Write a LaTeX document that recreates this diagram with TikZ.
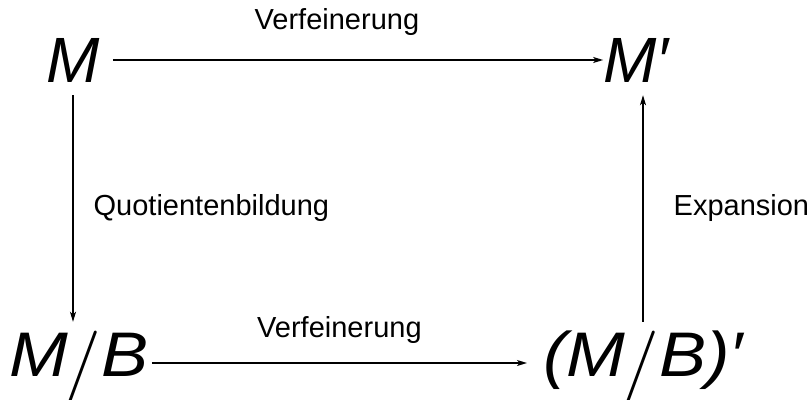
\documentclass[tikz,border=0pt]{standalone}
\usepackage{fontspec}
\setmainfont{Liberation Sans}
\newfontfamily\thinfont{lmroman10-regular}[Extension=.otf]
\usepackage{graphicx}
\usetikzlibrary{positioning,arrows.meta}
\tikzset{>={Stealth[length=10pt,width=6pt,inset=2.5pt]}}

% long thin slanted bar for the quotient, reaching below the baseline
\newcommand{\quotbar}{\kern-3pt\raisebox{-9.5pt}{\scalebox{1}[1.1]{\thinfont\fontsize{66}{66}\selectfont/}}\kern0pt}
% quotient objects are set a little wider
\newcommand{\wide}[1]{\scalebox{1.12}[1]{#1}}

\begin{document}
\begin{tikzpicture}[
        x=1pt, y=1pt,
        obj/.style={
            font=\fontsize{64}{64}\selectfont\itshape,
            text height=46pt,
            text depth=0pt,
            inner xsep=8pt,
            inner ysep=12pt,
          },
        quo/.style={
            obj,
            font=\fontsize{63}{63}\selectfont\itshape,
            text height=45pt,
            inner ysep=9pt,
          },
        lbl/.style={
            font=\fontsize{29}{31}\selectfont,
            inner sep=0pt,
          },
        arr/.style={
            ->,
            line width=1.3pt,
          },
      ]
      \useasboundingbox (0,0) rectangle (810,399);

      \node [
        obj,
        inner xsep=13pt
      ] (M) at (73,339) {M};
      \node [
        obj,
        inner xsep=0pt
      ] (Mp) at (636,339) {M′};
      \node [
        quo,
        inner xsep=3pt
      ] (MB) at (79,45.5) {\wide{M\quotbar B}};
      \node [
        quo,
        inner xsep=16pt
      ] (MBp) at (643,45.5) {\wide{(M\quotbar B)′}};

      \draw[arr] (M) -- node[lbl, pos=0.457, above=24pt] {Verfeinerung} (Mp);
      \draw[arr] (M) -- node[lbl, right=20pt] {Quotientenbildung} (M |- MB.north);
      \draw[arr] ([yshift=-9.5pt]MB.east) -- node[lbl, above=19pt] {Verfeinerung} ([yshift=-9.5pt]MBp.west);
      \draw[arr] (MB.north -| MBp) -- node[lbl, right=30pt] {Expansion} (MBp |- Mp.south);
    \end{tikzpicture}
\end{document}
